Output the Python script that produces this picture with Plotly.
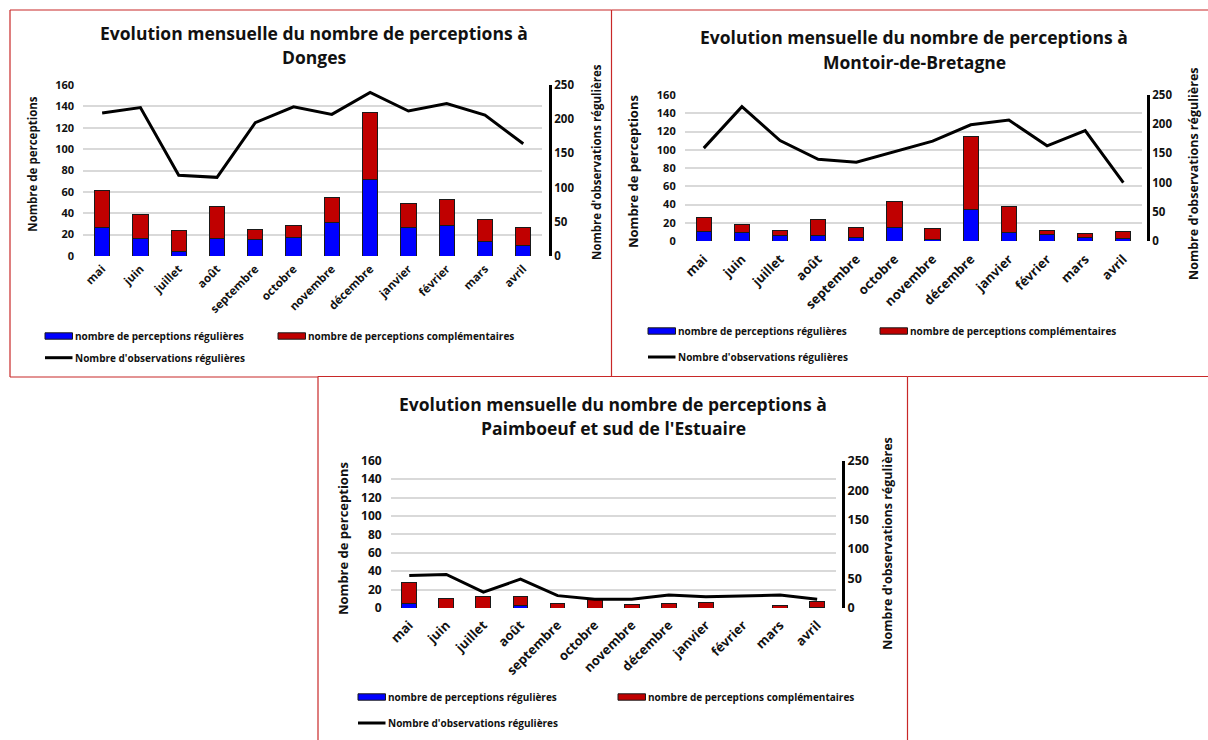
import plotly.graph_objects as go

# ---- data -------------------------------------------------------------
months = ["mai", "juin", "juillet", "août", "septembre", "octobre",
          "novembre", "décembre", "janvier", "février", "mars", "avril"]

donges_regulieres = [27, 16, 4, 16, 15, 17, 31, 72, 27, 29, 14, 10]
donges_complementaires = [34, 23, 20, 30, 10, 12, 24, 62, 22, 24, 20, 17]
donges_observations = [209, 217, 118, 115, 195, 218, 207, 239, 212, 223, 206, 164]

montoir_regulieres = [10, 9, 6, 6, 4, 15, 2, 34, 9, 7, 4, 3]
montoir_complementaires = [16, 9, 5, 18, 11, 28, 12, 80, 29, 5, 4, 7]
montoir_observations = [159, 230, 172, 140, 135, 153, 171, 199, 207, 163, 189, 100]

paimboeuf_regulieres = [5, 0, 0, 3, 0, 0, 0, 0, 0, 0, 0, 1]
paimboeuf_complementaires = [23, 10, 13, 10, 5, 10, 4, 5, 6, 0, 3, 6]
paimboeuf_observations = [55, 57, 27, 49, 21, 15, 15, 22, 19, 20, 22, 15]

left_ticks = [0, 20, 40, 60, 80, 100, 120, 140, 160]
right_ticks = [0, 50, 100, 150, 200, 250]

# ---- page geometry helpers (pixels -> paper fraction) ------------------
W, H = 1208, 740
FONT = "Open Sans"
BLUE = "#0000FF"
RED = "#C00000"
EDGE = "#1a1a1a"
FRAME = "rgb(200,40,40)"


def px(x):
    return x / W


def py(y):
    return 1 - y / H


fig = go.Figure()
annotations = []
shapes = []

panels = [
    dict(name="Donges",
         reg=donges_regulieres, comp=donges_complementaires, obs=donges_observations,
         x0=83, x1=542.4, raxis=550, top=85, bottom=256,
         tick=11, xtick=11.5, xstand=3, ytitle=11.5, rtitle=11.5,
         title_x=314, title_y=(33, 57),
         ltitle=(32.7, 164), rtitle_pos=(596, 162),
         leg_blue=45, leg_red=278, leg_rows=(336, 357.7)),
    dict(name="Montoir-de-Bretagne",
         reg=montoir_regulieres, comp=montoir_complementaires, obs=montoir_observations,
         x0=684.7, x1=1142.4, raxis=1148, top=95, bottom=241,
         tick=11, xtick=13, xstand=7, ytitle=13, rtitle=12.5,
         title_x=914, title_y=(37, 62),
         ltitle=(633, 172), rtitle_pos=(1193, 174),
         leg_blue=648, leg_red=880, leg_rows=(331, 357)),
    dict(name="Paimboeuf et sud de l'Estuaire",
         reg=paimboeuf_regulieres, comp=paimboeuf_complementaires, obs=paimboeuf_observations,
         x0=390.7, x1=835.7, raxis=843, top=460.7, bottom=608,
         tick=12, xtick=13, xstand=6, ytitle=13, rtitle=12.5,
         title_x=613, title_y=(404, 428),
         ltitle=(343, 539), rtitle_pos=(886.7, 543),
         leg_blue=358, leg_red=618, leg_rows=(697, 723)),
]

for i, p in enumerate(panels, start=1):
    xa = "x" if i == 1 else f"x{i}"
    yl = "y" if i == 1 else f"y{2 * i - 1}"
    yr = f"y{2 * i}"
    xa_key = "xaxis" if i == 1 else f"xaxis{i}"
    yl_key = "yaxis" if i == 1 else f"yaxis{2 * i - 1}"
    yr_key = f"yaxis{2 * i}"

    fig.add_trace(go.Bar(x=months, y=p["reg"], xaxis=xa, yaxis=yl,
                         name="nombre de perceptions régulières",
                         marker=dict(color=BLUE, line=dict(color=EDGE, width=1)),
                         width=0.4, showlegend=False))
    fig.add_trace(go.Bar(x=months, y=p["comp"], xaxis=xa, yaxis=yl,
                         name="nombre de perceptions complémentaires",
                         marker=dict(color=RED, line=dict(color=EDGE, width=1)),
                         width=0.4, showlegend=False))
    fig.add_trace(go.Scatter(x=months, y=p["obs"], xaxis=xa, yaxis=yr,
                             name="Nombre d'observations régulières",
                             mode="lines", line=dict(color="black", width=3),
                             showlegend=False))

    fig.update_layout(**{
        xa_key: dict(domain=[px(p["x0"]), px(p["x1"])], anchor=yl,
                     tickangle=-45, showgrid=False, showline=False, ticks="",
                     automargin=False, ticklabelstandoff=p["xstand"],
                     tickfont=dict(size=p["xtick"], family=FONT, color="#111", weight="bold"),
                     fixedrange=True),
        yl_key: dict(domain=[py(p["bottom"]), py(p["top"])], anchor=xa,
                     range=[0, 160], tickvals=left_ticks, showgrid=True,
                     gridcolor="#d9d9d9", gridwidth=1.5, zeroline=False,
                     showline=False, ticks="", ticklabelstandoff=8,
                     automargin=False,
                     tickfont=dict(size=p["tick"], family=FONT, color="#111", weight="bold"),
                     fixedrange=True),
        yr_key: dict(overlaying=yl, side="right", anchor="free", position=px(p["raxis"]),
                     range=[0, 250], tickvals=right_ticks, showgrid=False,
                     zeroline=False, showline=True, linecolor="black", linewidth=3,
                     ticks="", automargin=False,
                     tickfont=dict(size=p["tick"] + 0.5, family=FONT, color="#111", weight="bold"),
                     fixedrange=True),
    })

    # chart title (two lines)
    for line_text, ty in zip(["Evolution mensuelle du nombre de perceptions à", p["name"]],
                             p["title_y"]):
        annotations.append(dict(text=line_text, x=px(p["title_x"]), y=py(ty),
                                xref="paper", yref="paper", xanchor="center", yanchor="middle",
                                showarrow=False,
                                font=dict(size=17.5, family=FONT, color="#111", weight="bold")))

    # axis titles
    annotations.append(dict(text="Nombre de perceptions", x=px(p["ltitle"][0]), y=py(p["ltitle"][1]),
                            xref="paper", yref="paper", xanchor="center", yanchor="middle",
                            textangle=-90, showarrow=False,
                            font=dict(size=p["ytitle"], family=FONT, color="#111", weight="bold")))
    annotations.append(dict(text="Nombre d'observations régulières",
                            x=px(p["rtitle_pos"][0]), y=py(p["rtitle_pos"][1]),
                            xref="paper", yref="paper", xanchor="center", yanchor="middle",
                            textangle=-90, showarrow=False,
                            font=dict(size=p["rtitle"], family=FONT, color="#111", weight="bold")))

    # legend keys
    r1, r2 = p["leg_rows"]
    for lx, color, label in [(p["leg_blue"], BLUE, "nombre de perceptions régulières"),
                             (p["leg_red"], RED, "nombre de perceptions complémentaires")]:
        shapes.append(dict(type="rect", xref="paper", yref="paper",
                           x0=px(lx), x1=px(lx + 27.5), y0=py(r1 + 3.2), y1=py(r1 - 3.2),
                           fillcolor=color, line=dict(color=EDGE, width=1)))
        annotations.append(dict(text=label, x=px(lx + 28), y=py(r1), xref="paper", yref="paper",
                                xanchor="left", yanchor="middle", showarrow=False,
                                font=dict(size=10, family=FONT, color="#111", weight="bold")))
    shapes.append(dict(type="line", xref="paper", yref="paper",
                       x0=px(p["leg_blue"]), x1=px(p["leg_blue"] + 27.5), y0=py(r2), y1=py(r2),
                       line=dict(color="black", width=3)))
    annotations.append(dict(text="Nombre d'observations régulières", x=px(p["leg_blue"] + 28), y=py(r2),
                            xref="paper", yref="paper", xanchor="left", yanchor="middle",
                            showarrow=False,
                            font=dict(size=10, family=FONT, color="#111", weight="bold")))

# ---- frames around the three charts -----------------------------------
frame_lines = [
    # Donges
    (10, 10, 611.5, 10), (10, 10, 10, 377), (611.5, 10, 611.5, 377), (10, 377, 318, 377),
    # Montoir-de-Bretagne
    (611.5, 10, 1208, 10), (907.5, 376.5, 1208, 376.5),
    # Paimboeuf
    (318, 376.5, 907.5, 376.5), (318, 376.5, 318, 740), (907.5, 376.5, 907.5, 740),
]
for x0, y0, x1, y1 in frame_lines:
    shapes.append(dict(type="line", xref="paper", yref="paper",
                       x0=px(x0), y0=py(y0), x1=px(x1), y1=py(y1),
                       line=dict(color=FRAME, width=1.2)))

fig.update_layout(
    width=W, height=H,
    margin=dict(l=0, r=0, t=0, b=0, pad=0, autoexpand=False),
    paper_bgcolor="white", plot_bgcolor="white",
    barmode="stack", bargap=0.6,
    font=dict(family=FONT, color="#111"),
    showlegend=False,
    annotations=annotations,
    shapes=shapes,
)

fig.write_html("out.html")
